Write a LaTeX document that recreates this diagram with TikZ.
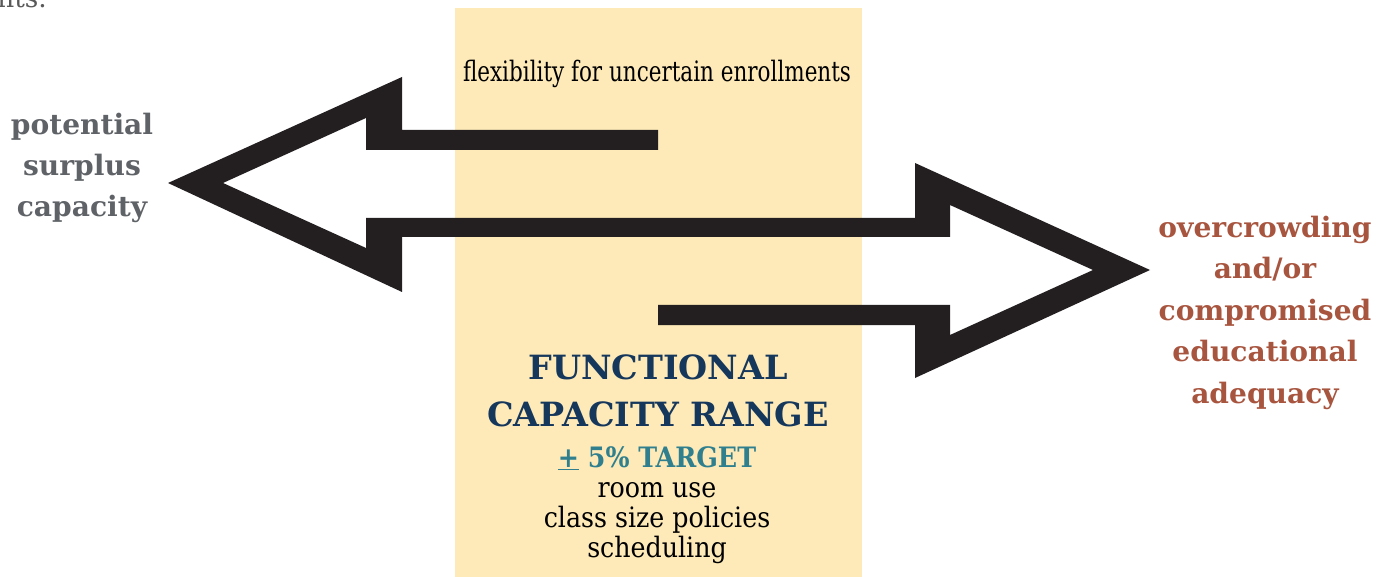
\documentclass[tikz,border=0pt]{standalone}
\usepackage{fontspec}
\usepackage{graphicx}
\setmainfont{DejaVu Serif}
\newfontfamily\slabfont{DejaVu Serif Condensed}

\definecolor{rangeyellow}{HTML}{FDEAB8}
\definecolor{arrowblack}{HTML}{231F20}
\definecolor{surplusgray}{HTML}{5F6266}
\definecolor{crowdrust}{HTML}{A8553F}
\definecolor{rangenavy}{HTML}{16375C}
\definecolor{targetteal}{HTML}{2F7F8E}

\begin{document}
\begin{tikzpicture}[x=0.02cm, y=-0.02cm,
		sidelabel/.style={align=center, anchor=base, font=\bfseries\fontsize{16}{23.6}\selectfont},
		rangetext/.style={anchor=base, inner sep=0pt, font=\slabfont\fontsize{16}{18}\selectfont}]
		\useasboundingbox (0, 0) rectangle (1395, 577);

		% clipped tail of the page text above
		\node[anchor=base west, inner sep=0pt, text=black!65, font=\fontsize{15}{17}\selectfont] (pagetail) at (-3, 8) {nts.};

		% the range band
		\fill[rangeyellow] (455, 8) rectangle (862, 577);

		% both arrows as one outline
		\fill[arrowblack]
		(658, 130) -- (402, 130) -- (402, 77) -- (168, 183) -- (402, 292) -- (402, 237) --
		(950, 237) -- (950, 205) -- (1093, 270) -- (950, 335) -- (950, 305) --
		(658, 305) -- (658, 325) -- (915, 325) -- (915, 378) -- (1150, 270) --
		(915, 163) -- (915, 218) -- (366, 218) -- (366, 248) -- (223, 183) --
		(366, 118) -- (366, 150) -- (658, 150) -- cycle;

		% multi-line nodes sit on their last baseline
		\node[sidelabel, text=surplusgray] (surplus) at (82, 217) {potential\\surplus\\capacity};
		\node[sidelabel, text=crowdrust] (crowding) at (1265, 403) {overcrowding\\and/or\\compromised\\educational\\adequacy};

		\node[rangetext] (flex) at (657, 82) {\scalebox{0.85}[1]{flexibility for uncertain enrollments}};

		\node[anchor=base, align=center, text=rangenavy, font=\bfseries\fontsize{19}{26.6}\selectfont] (title) at (658, 426) {FUNCTIONAL\\CAPACITY RANGE};
		\node[rangetext, text=targetteal, font=\slabfont\bfseries\fontsize{16}{18}\selectfont] (target) at (657, 467) {\underline{+} 5\% TARGET};
		\node[rangetext] (roomuse) at (657, 497) {room use};
		\node[rangetext] (classsize) at (657, 527) {class size policies};
		\node[rangetext] (schedule) at (657, 557) {scheduling};
	\end{tikzpicture}
\end{document}
